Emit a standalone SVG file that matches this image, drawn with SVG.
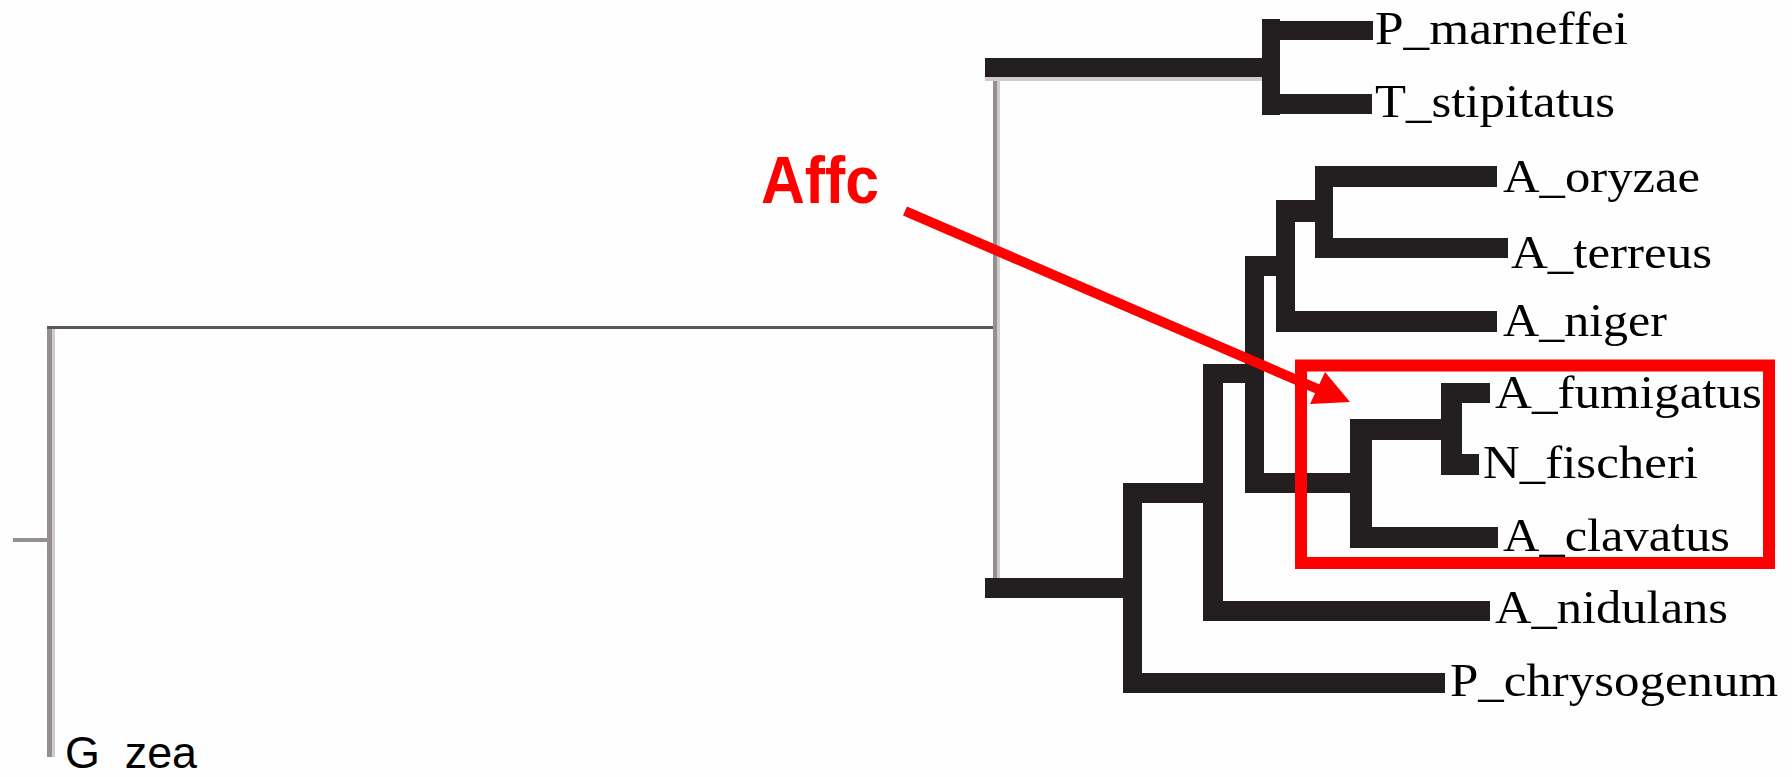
<svg xmlns="http://www.w3.org/2000/svg" width="1792" height="777" viewBox="0 0 1792 777">
<style>
.b{fill:#231f20}
.g{fill:#958f8f}
.l{fill:#d2cbcb}
.t{font-family:"Liberation Serif","Times New Roman",serif;font-size:47px;fill:#000}
.s{font-family:"Liberation Sans",Arial,sans-serif;font-size:44px;fill:#000}
</style>
<defs>
  <clipPath id="bottomclip"><rect x="0" y="0" width="1792" height="771"/></clipPath>
</defs>
<rect width="1792" height="777" fill="#fefefe"/>
<g id="connectors">
  <!-- root thin lines -->
  <rect class="g" x="13" y="538" width="36" height="4"/>
  <rect class="g" x="47" y="327" width="5" height="430"/>
  <rect class="l" x="52" y="329" width="3" height="428"/>
  <rect x="47" y="326" width="950" height="3" fill="#5c5656"/>
  <rect class="g" x="993" y="77" width="4" height="501"/>
  <rect class="l" x="997" y="77" width="3" height="501"/>
  <!-- P/T clade -->
  <rect class="l" x="985" y="77" width="277" height="4"/>
  <rect class="b" x="985" y="58" width="295" height="19"/>
  <rect class="b" x="1262" y="19" width="18" height="96"/>
  <rect class="b" x="1262" y="21" width="111" height="19"/>
  <rect class="b" x="1262" y="94" width="110" height="20"/>
  <!-- lower clade -->
  <rect class="b" x="985" y="578" width="157" height="20"/>
  <rect class="b" x="1123" y="483" width="19" height="210"/>
  <rect class="b" x="1123" y="673" width="322" height="20"/>
  <rect class="b" x="1123" y="483" width="100" height="20"/>
  <rect class="b" x="1203" y="364" width="20" height="257"/>
  <rect class="b" x="1203" y="601" width="287" height="20"/>
  <rect class="b" x="1203" y="364" width="61" height="19"/>
  <rect class="b" x="1245" y="256" width="19" height="237"/>
  <rect class="b" x="1245" y="256" width="50" height="20"/>
  <rect class="b" x="1276" y="200" width="19" height="132"/>
  <rect class="b" x="1276" y="200" width="57" height="22"/>
  <rect class="b" x="1276" y="311" width="221" height="21"/>
  <rect class="b" x="1315" y="166" width="18" height="92"/>
  <rect class="b" x="1315" y="166" width="182" height="21"/>
  <rect class="b" x="1315" y="238" width="193" height="20"/>
  <rect class="b" x="1245" y="473" width="127" height="20"/>
  <rect class="b" x="1350" y="419" width="22" height="129"/>
  <rect class="b" x="1350" y="419" width="112" height="21"/>
  <rect class="b" x="1350" y="527" width="148" height="21"/>
  <rect class="b" x="1441" y="383" width="21" height="92"/>
  <rect class="b" x="1441" y="383" width="49" height="20"/>
  <rect class="b" x="1441" y="454" width="38" height="21"/>
  <!-- annotation arrow -->
  <line x1="905" y1="211" x2="1320" y2="390" stroke="#ff0000" stroke-width="10"/>
  <polygon points="1325,372 1350,402 1310,404" fill="#ff0000"/>
</g>
<g id="highlight">
  <rect x="1301" y="365.5" width="468" height="197.5" fill="none" stroke="#ff0000" stroke-width="12"/>
</g>
<g id="affc"><text x="761" y="203" font-family="Liberation Sans, Arial, sans-serif" font-weight="bold" font-size="66" fill="#ff0000" textLength="118" lengthAdjust="spacingAndGlyphs">Affc</text></g>
<g id="P_marneffei"><text class="t" x="1375" y="44" textLength="253" lengthAdjust="spacingAndGlyphs">P_marneffei</text></g>
<g id="T_stipitatus"><text class="t" x="1375" y="117" textLength="240" lengthAdjust="spacingAndGlyphs">T_stipitatus</text></g>
<g id="A_oryzae"><text class="t" x="1503" y="192" textLength="197" lengthAdjust="spacingAndGlyphs">A_oryzae</text></g>
<g id="A_terreus"><text class="t" x="1511" y="268" textLength="201" lengthAdjust="spacingAndGlyphs">A_terreus</text></g>
<g id="A_niger"><text class="t" x="1503" y="336" textLength="164" lengthAdjust="spacingAndGlyphs">A_niger</text></g>
<g id="A_fumigatus"><text class="t" x="1495" y="408" textLength="267" lengthAdjust="spacingAndGlyphs">A_fumigatus</text></g>
<g id="N_fischeri"><text class="t" x="1483" y="478" textLength="215" lengthAdjust="spacingAndGlyphs">N_fischeri</text></g>
<g id="A_clavatus"><text class="t" x="1503" y="551" textLength="227" lengthAdjust="spacingAndGlyphs">A_clavatus</text></g>
<g id="A_nidulans"><text class="t" x="1495" y="623" textLength="233" lengthAdjust="spacingAndGlyphs">A_nidulans</text></g>
<g id="P_chrysogenum"><text class="t" x="1450" y="696" textLength="328" lengthAdjust="spacingAndGlyphs">P_chrysogenum</text></g>
<g id="G_zea" clip-path="url(#bottomclip)"><text class="s" x="65" y="768" textLength="132" lengthAdjust="spacingAndGlyphs">G_zea</text></g>
</svg>
